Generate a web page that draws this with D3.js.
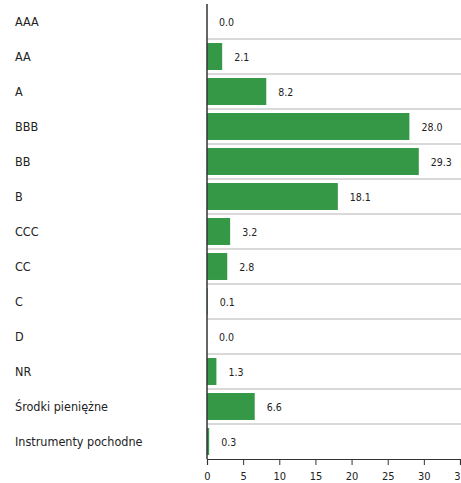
<!DOCTYPE html>
<html>
<head>
<meta charset="utf-8">
<script src="https://cdn.jsdelivr.net/npm/d3@7"></script>
<style>
  body { margin: 0; background: #fff; }
  svg { display: block; }
  svg text { font-family: "DejaVu Sans", sans-serif; font-stretch: condensed; }
</style>
</head>
<body>
<div id="chart"></div>
<script>
// data
const categories = ["AAA", "AA", "A", "BBB", "BB", "B", "CCC", "CC", "C", "D", "NR", "Środki pieniężne", "Instrumenty pochodne"];
const values = [0.0, 2.1, 8.2, 28.0, 29.3, 18.1, 3.2, 2.8, 0.1, 0.0, 1.3, 6.6, 0.3];
const xTicks = [0, 5, 10, 15, 20, 25, 30, 35];

const width = 461, height = 483;
const plotLeft = 207, plotRight = 460, plotTop = 4, plotBottom = 459;

const svg = d3.select("#chart")
  .append("svg")
  .attr("width", width)
  .attr("height", height);

// scales
const x = d3.scaleLinear()
  .domain([0, 35])
  .range([plotLeft, plotRight]);

const y = d3.scaleBand()
  .domain(categories)
  .range([plotTop, plotBottom])
  .paddingInner(0.23)
  .paddingOuter(0.115);

const step = y.step();

// gridlines between rows
svg.selectAll("line.grid")
  .data(categories.slice(1))
  .enter()
  .append("line")
  .attr("class", "grid")
  .attr("x1", plotLeft)
  .attr("x2", width)
  .attr("y1", (d) => y(d) - step * 0.115)
  .attr("y2", (d) => y(d) - step * 0.115)
  .attr("stroke", "#b4b4b4")
  .attr("stroke-width", 1.2);

// bars
svg.selectAll("rect")
  .data(values)
  .enter()
  .append("rect")
  .attr("x", x(0))
  .attr("y", (d, i) => y(categories[i]))
  .attr("width", (d) => x(d) - x(0))
  .attr("height", y.bandwidth())
  .attr("fill", "#349846");

// value labels
svg.selectAll("text.val")
  .data(values)
  .enter()
  .append("text")
  .attr("class", "val")
  .attr("x", (d) => x(d) + 12)
  .attr("y", (d, i) => y(categories[i]) + y.bandwidth() / 2 + 1)
  .attr("dy", "0.35em")
  .attr("font-size", 10.5)
  .attr("fill", "#222")
  .text((d) => d.toFixed(1));

// category labels
svg.selectAll("text.cat")
  .data(categories)
  .enter()
  .append("text")
  .attr("class", "cat")
  .attr("x", 15)
  .attr("y", (d) => y(d) + y.bandwidth() / 2)
  .attr("dy", "0.35em")
  .attr("font-size", 12.5)
  .attr("fill", "#222")
  .text((d) => d);

// x axis
const xAxis = d3.axisBottom(x)
  .tickValues(xTicks)
  .tickSize(6)
  .tickFormat(d3.format("d"));

const gx = svg.append("g")
  .attr("transform", "translate(0," + plotBottom + ")")
  .call(xAxis);
gx.select(".domain").attr("stroke", "#333").attr("stroke-width", 1.2);
gx.selectAll(".tick line").attr("stroke", "#333");
gx.selectAll(".tick text")
  .attr("font-family", null)
  .attr("font-size", 11)
  .attr("fill", "#222")
  .attr("y", 13);

// zero line
svg.append("line")
  .attr("x1", x(0))
  .attr("x2", x(0))
  .attr("y1", plotTop)
  .attr("y2", plotBottom)
  .attr("stroke", "#333")
  .attr("stroke-width", 1.5);
</script>
</body>
</html>
